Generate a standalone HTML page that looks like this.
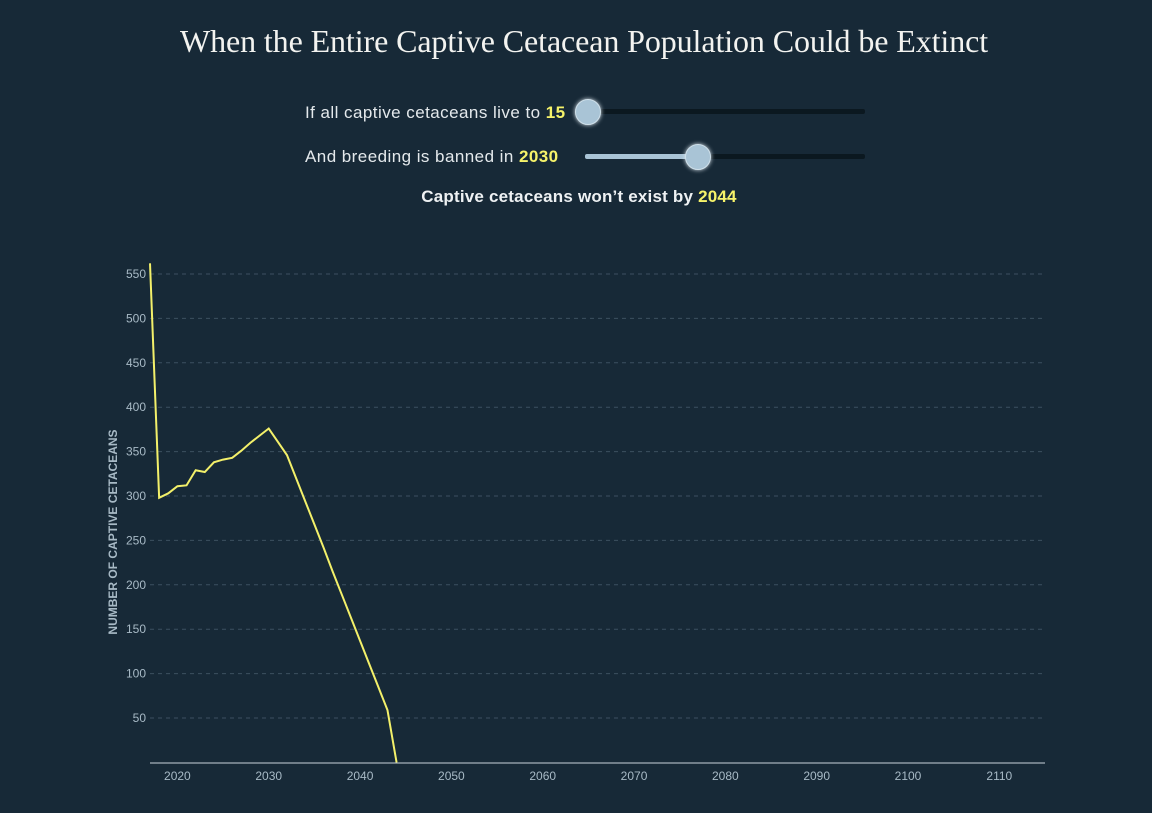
<!DOCTYPE html>
<html><head><meta charset="utf-8"><style>
body{margin:0;width:1152px;height:813px;background:#172937;overflow:hidden;font-family:"Liberation Sans",sans-serif;color:#e8edf0;position:relative}
.t{position:absolute;left:8px;width:1152px;text-align:center;top:23px;font-family:"Liberation Serif",serif;font-size:32px;color:#f3f3f0;letter-spacing:-0.1px}
.lbl{position:absolute;font-size:17px;color:#e4e9ec;letter-spacing:0.45px}
.y{color:#f6f36a;font-weight:bold}
.track{position:absolute;height:5px;background:#0b1820;border-radius:2px}
.knob{position:absolute;width:24px;height:24px;border-radius:50%;background:#a9c4d6;box-shadow:0 0 4px #dfe9f0;border:1px solid #cfe0ea}
.res{position:absolute;left:3px;width:1152px;text-align:center;top:187px;font-size:17px;font-weight:bold;color:#eef1f3;letter-spacing:0.2px}
</style></head><body>
<div class="t">When the Entire Captive Cetacean Population Could be Extinct</div>
<div class="lbl" style="left:305px;top:103px">If all captive cetaceans live to <span class="y">15</span></div>
<div class="track" style="left:587px;top:109px;width:278px"></div>
<div class="knob" style="left:575px;top:99px"></div>
<div class="lbl" style="left:305px;top:147px">And breeding is banned in <span class="y">2030</span></div>
<div class="track" style="left:585px;top:154px;width:280px"></div>
<div class="track" style="left:585px;top:154px;width:112px;background:#a9c4d6"></div>
<div class="knob" style="left:685px;top:144px"></div>
<div class="res">Captive cetaceans won’t exist by <span class="y">2044</span></div>
<svg id="c" width="1152" height="813" style="position:absolute;left:0;top:0"></svg>
<script>
const years=[2017,2018,2019,2020,2021,2022,2023,2024,2025,2026,2027,2028,2029,2030,2031,2032,2033,2034,2035,2036,2037,2038,2039,2040,2041,2042,2043,2044];
const population=[562,298,303,311,312,329,327,338,341,343,351,360,368,376,361,346,320,294,268,242,215,189,163,137,111,85,59,0];
const yTicks=[50,100,150,200,250,300,350,400,450,500,550];
const xTicks=[2020,2030,2040,2050,2060,2070,2080,2090,2100,2110];
const NS="http://www.w3.org/2000/svg",svg=document.getElementById('c');
const x=v=>150+(v-2017)*(895/98), y=v=>762.4-v*0.888;
function mk(t,a,txt){const e=document.createElementNS(NS,t);for(const k in a)e.setAttribute(k,a[k]);if(txt!=null)e.textContent=txt;svg.appendChild(e);return e;}
yTicks.forEach(v=>{
 const l=mk('line',{x1:150,x2:1045,y1:y(v),y2:y(v),stroke:'#3c5060','stroke-dasharray':'4,4'});
 
 const t=mk('text',{x:146,y:y(v)+4,'text-anchor':'end','font-size':12,fill:'#a8bac6','font-family':'Liberation Sans'},v);
 
});
xTicks.forEach(v=>{
 const t=mk('text',{x:x(v),y:780,'text-anchor':'middle','font-size':12,fill:'#a8bac6','font-family':'Liberation Sans'},v);
 
});
const ax=mk('line',{x1:150,x2:1045,y1:763,y2:763,stroke:'#c9d4db','stroke-width':1});

const yt=mk('text',{transform:'translate(117,532) rotate(-90)','text-anchor':'middle','font-size':12,'font-weight':'bold',fill:'#a8bac6','font-family':'Liberation Sans'},'NUMBER OF CAPTIVE CETACEANS');

const p=mk('polyline',{points:years.map((v,i)=>x(v)+','+y(population[i])).join(' '),fill:'none',stroke:'#f3f06a','stroke-width':2});

</script>
</body></html>
